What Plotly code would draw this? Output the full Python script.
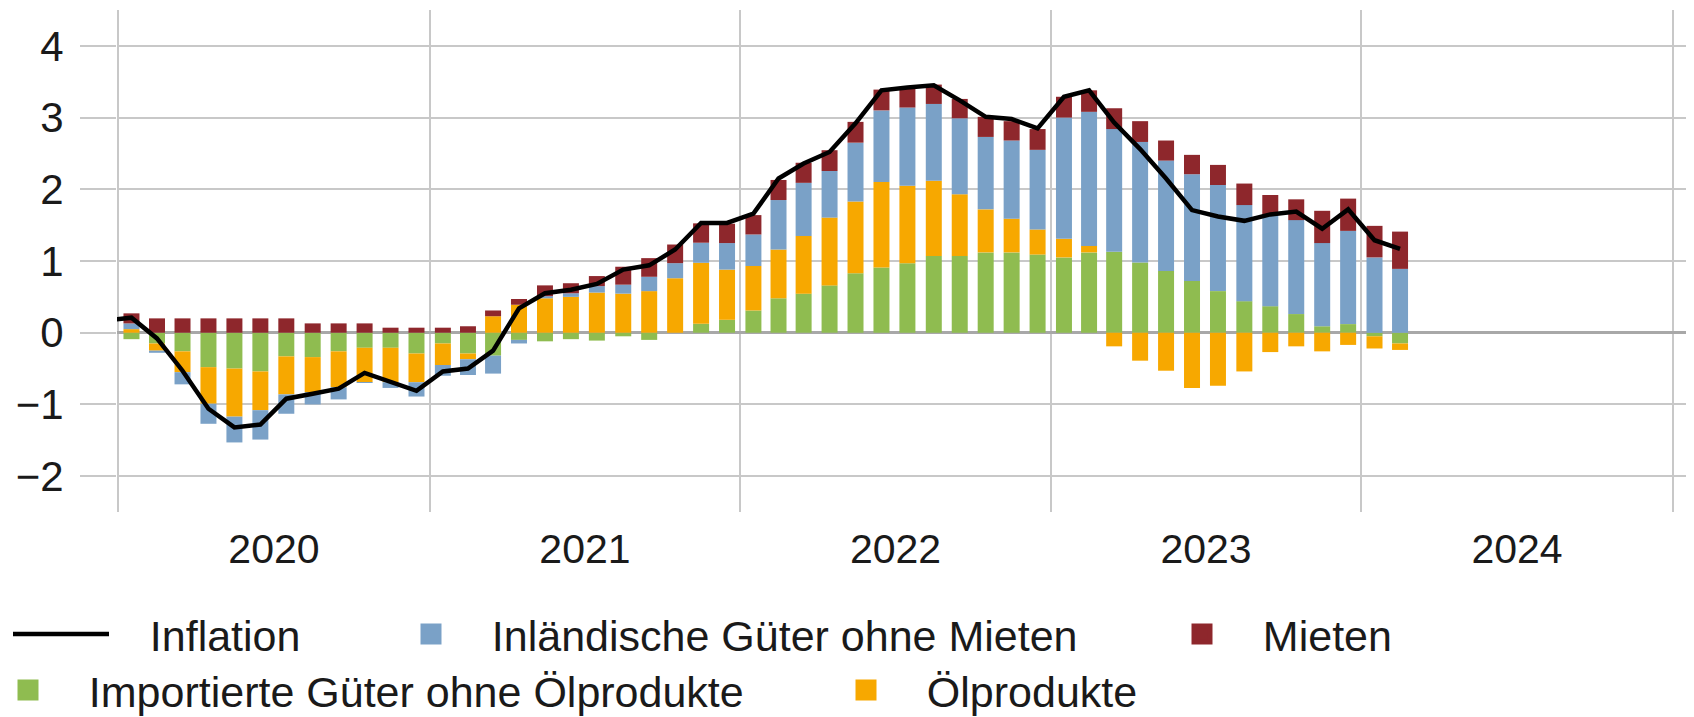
import pandas as pd
import plotly.graph_objects as go

# ---- data (percent, contributions to y/y CPI inflation) ----
months = pd.date_range("2020-01-01", "2024-02-01", freq="MS").strftime("%Y-%m").tolist()
line_months = ["2019-12"] + months

inflation = [0.17,
             0.21, -0.08, -0.53, -1.06, -1.32, -1.28, -0.92, -0.85, -0.78, -0.56, -0.68, -0.81,
             -0.54, -0.50, -0.25, 0.34, 0.55, 0.60, 0.68, 0.88, 0.94, 1.16, 1.53, 1.53,
             1.66, 2.15, 2.36, 2.52, 2.92, 3.38, 3.42, 3.45, 3.24, 3.01, 2.98, 2.85,
             3.29, 3.38, 2.93, 2.56, 2.15, 1.71, 1.62, 1.56, 1.65, 1.69, 1.45, 1.72,
             1.29, 1.17]

importierte = [-0.09, -0.15, -0.26, -0.48, -0.50, -0.54, -0.33, -0.34, -0.26, -0.21, -0.21, -0.29,
               -0.15, -0.29, -0.32, -0.10, -0.12, -0.09, -0.11, -0.05, -0.10, 0.00, 0.125, 0.18,
               0.31, 0.48, 0.545, 0.66, 0.83, 0.91, 0.97, 1.07, 1.07, 1.12, 1.12, 1.09,
               1.05, 1.12, 1.13, 0.98, 0.86, 0.72, 0.58, 0.44, 0.37, 0.26, 0.09, 0.12,
               -0.05, -0.15]

oelprodukte = [0.05, -0.10, -0.29, -0.51, -0.67, -0.54, -0.53, -0.49, -0.50, -0.48, -0.48, -0.40,
               -0.30, -0.08, 0.23, 0.39, 0.48, 0.50, 0.56, 0.545, 0.58, 0.76, 0.85, 0.70,
               0.62, 0.68, 0.805, 0.945, 1.00, 1.19, 1.08, 1.05, 0.86, 0.60, 0.47, 0.35,
               0.26, 0.09, -0.19, -0.39, -0.53, -0.77, -0.74, -0.54, -0.27, -0.19, -0.26, -0.17,
               -0.17, -0.09]

inlaendische = [0.08, -0.03, -0.17, -0.28, -0.36, -0.41, -0.27, -0.17, -0.17, -0.01, -0.08, -0.20,
                -0.15, -0.22, -0.25, -0.05, 0.03, 0.05, 0.09, 0.125, 0.20, 0.21, 0.28, 0.37,
                0.44, 0.69, 0.74, 0.65, 0.82, 1.00, 1.09, 1.07, 1.06, 1.01, 1.09, 1.11,
                1.69, 1.87, 1.71, 1.68, 1.54, 1.49, 1.48, 1.34, 1.27, 1.31, 1.16, 1.30,
                1.05, 0.89]

mieten = [0.14, 0.20, 0.20, 0.20, 0.20, 0.20, 0.20, 0.13, 0.13, 0.13, 0.07, 0.07,
          0.07, 0.09, 0.08, 0.08, 0.15, 0.14, 0.14, 0.25, 0.26, 0.26, 0.27, 0.27,
          0.27, 0.28, 0.28, 0.29, 0.29, 0.29, 0.27, 0.27, 0.27, 0.28, 0.27, 0.29,
          0.29, 0.30, 0.29, 0.29, 0.28, 0.27, 0.28, 0.30, 0.28, 0.29, 0.45, 0.45,
          0.44, 0.52]

y_ticks = [-2, -1, 0, 1, 2, 3, 4]

# ---- style ----
FONT = "Liberation Sans, Arial, sans-serif"
TXT = "#1a1a1a"
GRID = "#c8c8c8"
C_GREEN = "#8fbc50"
C_ORANGE = "#f7a800"
C_BLUE = "#7aa1c7"
C_RED = "#8e272c"
BAR_W = 18.8 * 86400000  # ms
PAD = "\u00a0\u00a0\u00a0"

fig = go.Figure()

bar_series = [
    ("Importierte Güter ohne Ölprodukte", importierte, C_GREEN, "legend4"),
    ("Ölprodukte", oelprodukte, C_ORANGE, "legend5"),
    ("Inländische Güter ohne Mieten", inlaendische, C_BLUE, "legend2"),
    ("Mieten", mieten, C_RED, "legend3"),
]
for name, vals, col, lg in bar_series:
    fig.add_trace(go.Bar(
        x=months, y=vals, name=name, width=BAR_W,
        xperiod="M1", xperiodalignment="middle",
        marker=dict(color=col, line=dict(width=0)),
        showlegend=False, hoverinfo="skip",
    ))
    # legend key only
    fig.add_trace(go.Scatter(
        x=[None], y=[None], mode="markers", name=PAD + name, legend=lg,
        marker=dict(symbol="square", size=16, color=col, line=dict(color=col, width=5)),
    ))

fig.add_trace(go.Scatter(
    x=line_months, y=inflation, name=PAD + "Inflation", mode="lines",
    xperiod="M1", xperiodalignment="middle",
    line=dict(color="#000000", width=4.5), legend="legend",
))

OFF = 8  # page body margin
W, H = 1694 - OFF, 717 - OFF
L, R, T = 117 - OFF, 0, 10 - OFF
B = H - (512 - OFF)
PW = W - L - R
PH = H - T - B


def px(xp):
    return (xp - OFF - L) / PW


def py(yp):
    return (H - B - (yp - OFF)) / PH


leg_common = dict(font=dict(family=FONT, size=43, color=TXT), bgcolor="rgba(0,0,0,0)",
                  borderwidth=0, xanchor="left", yanchor="middle", orientation="v")

ROW1, ROW2 = 634, 690

fig.update_layout(
    width=W, height=H,
    margin=dict(l=L, r=R, t=T, b=B, autoexpand=False),
    plot_bgcolor="white", paper_bgcolor="white",
    barmode="relative",
    font=dict(family=FONT, color=TXT),
    legend=dict(x=px(8), y=py(ROW1), itemwidth=96, **leg_common),
    legend2=dict(x=px(406), y=py(ROW1), itemwidth=40, **leg_common),
    legend3=dict(x=px(1177), y=py(ROW1), itemwidth=40, **leg_common),
    legend4=dict(x=px(3), y=py(ROW2), itemwidth=40, **leg_common),
    legend5=dict(x=px(841), y=py(ROW2), itemwidth=40, **leg_common),
    xaxis=dict(
        type="date", range=["2019-12-30 12:00", "2025-01-26"],
        tick0="2020-01-01", dtick="M12", tickformat="%Y", ticklabelmode="period",
        showgrid=True, gridcolor=GRID, gridwidth=1.5, zeroline=False, showline=False,
        ticks="", ticklabelstandoff=9,
        tickfont=dict(family=FONT, size=41, color=TXT),
    ),
    yaxis=dict(
        range=[-2.5, 4.5], tickvals=y_ticks,
        showgrid=True, gridcolor=GRID, gridwidth=1.5,
        zeroline=True, zerolinecolor="#a8a8a8", zerolinewidth=3,
        ticks="outside", ticklen=36, tickcolor=GRID, tickwidth=1.5,
        ticklabelstandoff=8, showline=False,
        tickfont=dict(family=FONT, size=42, color=TXT),
    ),
)

fig.write_html("out.html")
